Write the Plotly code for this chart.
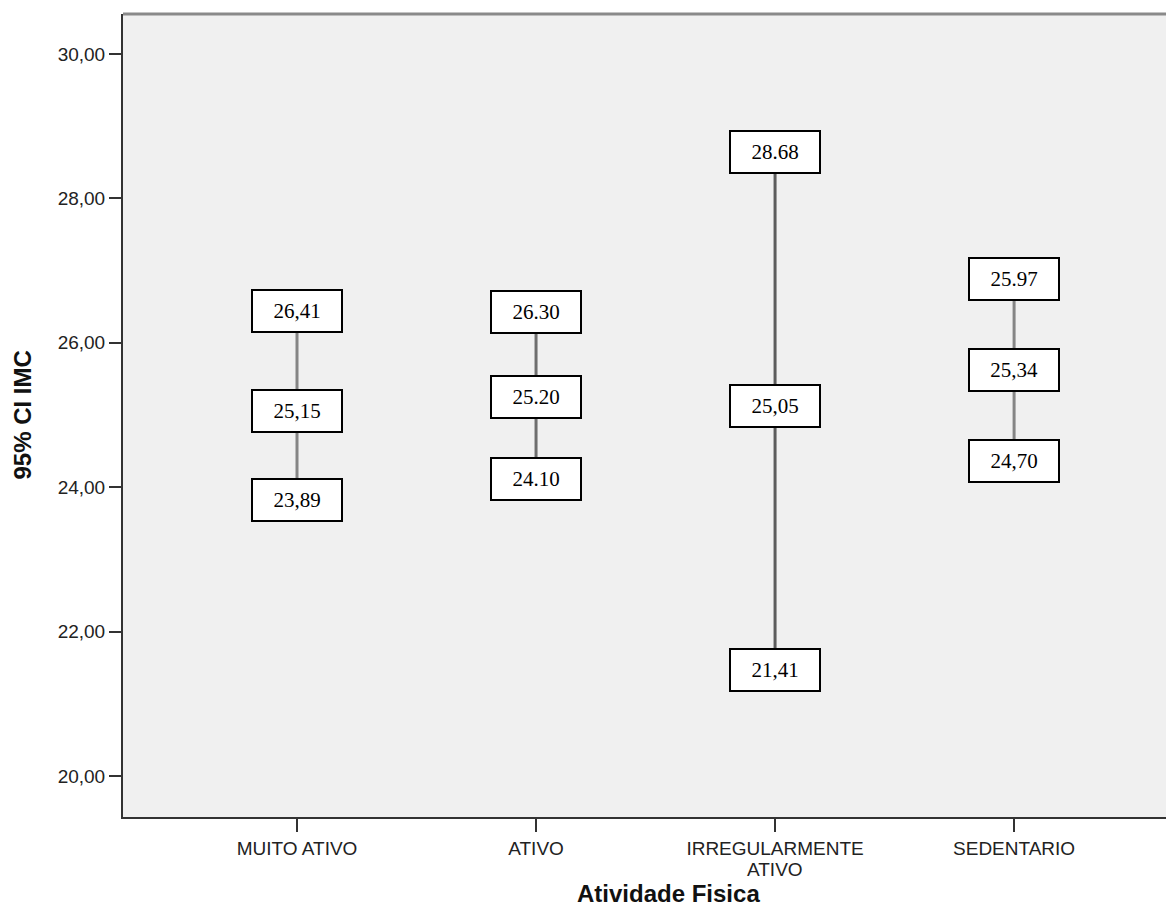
import plotly.graph_objects as go

# ---- data ----
categories = ["MUITO ATIVO", "ATIVO", "IRREGULARMENTE ATIVO", "SEDENTARIO"]
tick_labels = ["MUITO ATIVO", "ATIVO", "IRREGULARMENTE", "SEDENTARIO"]
tick_labels_line2 = ["", "", "ATIVO", ""]

# positions of the marks (IMC) as drawn
ci_upper = [26.44, 26.42, 28.64, 26.88]
mean_imc = [25.06, 25.25, 25.12, 25.62]
ci_lower = [23.82, 24.12, 21.47, 24.36]

# label texts as printed in the boxes
upper_text = ["26,41", "26.30", "28.68", "25.97"]
mean_text = ["25,15", "25.20", "25,05", "25,34"]
lower_text = ["23,89", "24.10", "21,41", "24,70"]

y_ticks = [20, 22, 24, 26, 28, 30]

fig = go.Figure()

line_colors = ["#858585", "#6e6e6e", "#5c5c5c", "#858585"]
for i, cat in enumerate(categories):
    fig.add_trace(go.Scatter(
        x=[cat], y=[mean_imc[i]],
        mode="markers",
        marker=dict(size=1, color="rgba(0,0,0,0)"),
        error_y=dict(type="data", symmetric=False,
                     array=[ci_upper[i] - mean_imc[i]],
                     arrayminus=[mean_imc[i] - ci_lower[i]],
                     color=line_colors[i], thickness=3, width=0),
        showlegend=False, hoverinfo="skip",
    ))

box_font = dict(family="Liberation Serif, Times New Roman, serif", size=21, color="#000")
for i, cat in enumerate(categories):
    for val, txt in ((ci_upper[i], upper_text[i]), (mean_imc[i], mean_text[i]), (ci_lower[i], lower_text[i])):
        fig.add_annotation(
            x=cat, y=val, xref="x", yref="y", text=txt, showarrow=False,
            font=box_font, bgcolor="#ffffff", bordercolor="#000000",
            borderwidth=2, borderpad=0, width=88, height=40,
            align="center", valign="middle",
        )

axis_font = dict(family="Liberation Sans, Arial, sans-serif", size=19, color="#222")

# second line of the category labels (tight line spacing as in the original)
for cat, line2 in zip(categories, tick_labels_line2):
    if line2:
        fig.add_annotation(text=line2, xref="x", yref="paper", x=cat, y=0,
                           yshift=-52, yanchor="middle", xanchor="center",
                           showarrow=False, font=axis_font)

# axis titles
title_font = dict(family="Liberation Sans, Arial, sans-serif", size=24, color="#111")
fig.add_annotation(text="<b>Atividade Fisica</b>", xref="paper", yref="paper",
                   x=0.519, y=0, yshift=-61, yanchor="top", xanchor="center",
                   showarrow=False, font=title_font)
fig.add_annotation(text="<b>95% CI IMC</b>", xref="paper", yref="paper",
                   x=0, xshift=-101, y=0.5, xanchor="center", yanchor="middle",
                   textangle=-90, showarrow=False, font=title_font)

# top border of the plot frame
fig.add_shape(type="line", xref="paper", yref="paper", x0=0, x1=1, y0=1, y1=1,
              line=dict(color="#8a8a8a", width=3))

fig.update_layout(
    width=1166, height=911,
    margin=dict(l=115, r=0, t=6, b=102),
    paper_bgcolor="#ffffff", plot_bgcolor="#f0f0f0",
    xaxis=dict(
        type="category", categoryorder="array", categoryarray=categories,
        range=[-0.728, 3.669],
        tickmode="array", tickvals=categories, ticktext=tick_labels,
        showgrid=False, zeroline=False,
        showline=True, linecolor="#333", linewidth=2,
        ticks="outside", ticklen=13, tickwidth=2, tickcolor="#333",
        tickfont=axis_font,
    ),
    yaxis=dict(
        range=[19.432, 30.554],
        tickmode="array", tickvals=y_ticks,
        ticktext=[f"{v:.2f}".replace(".", ",") for v in y_ticks],
        showgrid=False, zeroline=False,
        showline=True, linecolor="#333", linewidth=2,
        ticks="outside", ticklen=12, tickwidth=2, tickcolor="#333",
        tickfont=axis_font,
    ),
)

fig.write_html("out.html")
